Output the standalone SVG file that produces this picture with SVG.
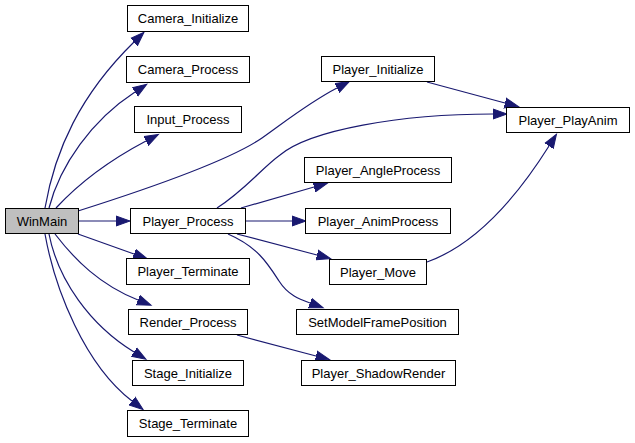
<svg xmlns="http://www.w3.org/2000/svg" width="635" height="443" viewBox="0 0 635 443">
<style>
.n rect{fill:#fff;stroke:#000;stroke-width:1}
.n.root rect{fill:#bfbfbf}
.n text{font-family:"Liberation Sans",Arial,sans-serif;font-size:13px;text-anchor:middle;fill:#000}
.e path{fill:none;stroke:#191970;stroke-width:1.2;marker-end:url(#ah)}
</style>
<defs>
<marker id="ah" markerUnits="userSpaceOnUse" markerWidth="16" markerHeight="12" refX="0" refY="5" orient="auto" viewBox="0 0 16 10">
<path d="M0,0 L14,5 L0,10 z" fill="#191970" stroke="#191970" stroke-width="1"/>
</marker>
</defs>
<rect width="635" height="443" fill="#fff"/>
<g id="edges" class="e">
<path d="M45,208 C55,150 80,95 134,42"/>
<path d="M49,208 C60,165 92,120 135,92"/>
<path d="M56,208 C80,182 110,160 146,141"/>
<path d="M78,211 C160,185 230,160 262,138 C290,118 310,102 337,88"/>
<path d="M78,221 L116,221"/>
<path d="M78,234 L134,254"/>
<path d="M55,234 C75,260 100,285 138,300"/>
<path d="M49,234 C58,280 90,325 134,352"/>
<path d="M45,234 C55,290 85,365 132,401"/>
<path d="M217,208 C245,190 262,168 280,155 C310,130 400,114 493,114"/>
<path d="M241,208 L314,187"/>
<path d="M245,221 L292,221"/>
<path d="M237,234 L317,255"/>
<path d="M228,234 C258,247 268,264 279,281 C288,295 299,299 310,303"/>
<path d="M427,82 L505,103"/>
<path d="M427,262 C475,245 515,200 549,146"/>
<path d="M237,335 L316,356"/>
</g>
<g id="WinMain" class="n root"><rect x="5.5" y="208.5" width="73" height="25"/><text x="42" y="225.5">WinMain</text></g>
<g id="Camera_Initialize" class="n"><rect x="127.5" y="5.5" width="121" height="26"/><text x="188" y="23">Camera_Initialize</text></g>
<g id="Camera_Process" class="n"><rect x="126.5" y="56.5" width="123" height="26"/><text x="188" y="74">Camera_Process</text></g>
<g id="Input_Process" class="n"><rect x="134.5" y="106.5" width="107" height="26"/><text x="188" y="124">Input_Process</text></g>
<g id="Player_Process" class="n"><rect x="130.5" y="208.5" width="115" height="25"/><text x="188" y="225.5">Player_Process</text></g>
<g id="Player_Terminate" class="n"><rect x="126.5" y="258.5" width="123" height="26"/><text x="188" y="276">Player_Terminate</text></g>
<g id="Render_Process" class="n"><rect x="128.5" y="309.5" width="119" height="25"/><text x="188" y="326.5">Render_Process</text></g>
<g id="Stage_Initialize" class="n"><rect x="132.5" y="360.5" width="111" height="25"/><text x="188" y="377.5">Stage_Initialize</text></g>
<g id="Stage_Terminate" class="n"><rect x="127.5" y="410.5" width="121" height="26"/><text x="188" y="428">Stage_Terminate</text></g>
<g id="Player_Initialize" class="n"><rect x="321.5" y="56.5" width="113" height="25"/><text x="378" y="73.5">Player_Initialize</text></g>
<g id="Player_AngleProcess" class="n"><rect x="304.5" y="157.5" width="147" height="25"/><text x="378" y="174.5">Player_AngleProcess</text></g>
<g id="Player_AnimProcess" class="n"><rect x="305.5" y="208.5" width="145" height="25"/><text x="378" y="225.5">Player_AnimProcess</text></g>
<g id="Player_Move" class="n"><rect x="329.5" y="259.5" width="97" height="25"/><text x="378" y="276.5">Player_Move</text></g>
<g id="SetModelFramePosition" class="n"><rect x="296.5" y="309.5" width="162" height="25"/><text x="377.5" y="326.5">SetModelFramePosition</text></g>
<g id="Player_ShadowRender" class="n"><rect x="301.5" y="360.5" width="154" height="25"/><text x="378.5" y="377.5">Player_ShadowRender</text></g>
<g id="Player_PlayAnim" class="n"><rect x="506.5" y="107.5" width="123" height="25"/><text x="568" y="124.5">Player_PlayAnim</text></g>
</svg>
